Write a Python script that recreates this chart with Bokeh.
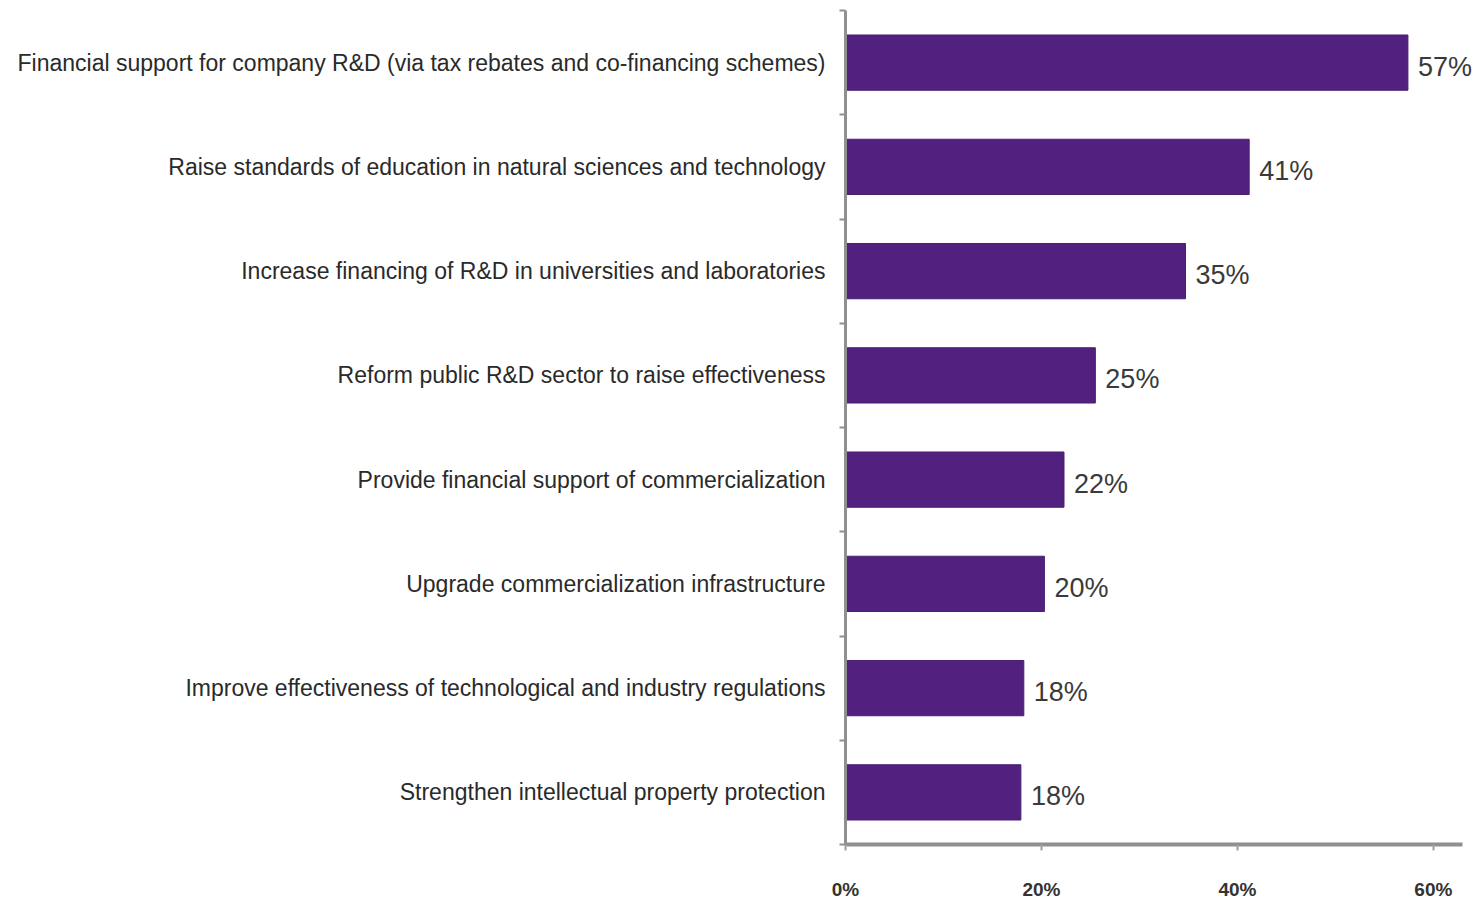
from bokeh.plotting import figure
from bokeh.models import ColumnDataSource, LabelSet, FixedTicker, Range1d
from bokeh.core.properties import value
from bokeh.embed import file_html
from bokeh.resources import INLINE

categories = [
    "Financial support for company R&D (via tax rebates and co-financing schemes)",
    "Raise standards of education in natural sciences and technology",
    "Increase financing of R&D in universities and laboratories",
    "Reform public R&D sector to raise effectiveness",
    "Provide financial support of commercialization",
    "Upgrade commercialization infrastructure",
    "Improve effectiveness of technological and industry regulations",
    "Strengthen intellectual property protection",
]
values = [57.4, 41.2, 34.7, 25.5, 22.3, 20.3, 18.2, 17.9]
value_labels = ["57%", "41%", "35%", "25%", "22%", "20%", "18%", "18%"]
x_ticks = [0, 20, 40, 60]
x_tick_labels = ["0%", "20%", "40%", "60%"]

n = len(categories)
pos = [i + 0.5 for i in range(n)]

src = ColumnDataSource(dict(y=pos, v=values, lab=value_labels, cat=categories))

p = figure(width=1476, height=902, output_backend="svg", toolbar_location=None,
           x_range=Range1d(0, 64.4), y_range=Range1d(n, 0),
           min_border_left=845, min_border_right=0, min_border_top=10, min_border_bottom=57)
p.outline_line_color = None
p.xgrid.grid_line_color = None
p.ygrid.grid_line_color = None
p.background_fill_color = "white"

p.hbar(y="y", left=0, right="v", height=0.53, source=src,
       fill_color="#52207f", line_color="#4a1f72", line_width=1)

labels = LabelSet(x="v", y="y", text="lab", source=src, x_offset=10, y_offset=-4,
                  text_baseline="middle", text_align="left",
                  text_font=value("Liberation Sans"), text_font_size=value("27px"),
                  text_color="#3a3a3a")
p.add_layout(labels)

# y axis
p.yaxis.ticker = FixedTicker(ticks=pos, minor_ticks=list(range(n + 1)))
p.yaxis.major_label_overrides = {pos[i]: categories[i] for i in range(n)}
p.yaxis.major_tick_line_color = None
p.yaxis.major_tick_out = 0
p.yaxis.major_tick_in = 0
p.yaxis.minor_tick_out = 6
p.yaxis.minor_tick_in = 0
p.yaxis.minor_tick_line_color = "#909090"
p.yaxis.minor_tick_line_width = 2
p.yaxis.axis_line_color = "#909090"
p.yaxis.axis_line_width = 3
p.yaxis.major_label_standoff = 14
p.yaxis.major_label_text_font = "Liberation Sans"
p.yaxis.major_label_text_font_size = "23px"
p.yaxis.major_label_text_color = "#2a2a2a"

# x axis
p.xaxis.ticker = FixedTicker(ticks=x_ticks, minor_ticks=[])
p.xaxis.bounds = (0, 63)
p.xaxis.major_label_overrides = {x_ticks[i]: x_tick_labels[i] for i in range(len(x_ticks))}
p.xaxis.axis_line_color = "#909090"
p.xaxis.axis_line_width = 4
p.xaxis.major_tick_line_color = "#a0a0a0"
p.xaxis.major_tick_line_width = 2
p.xaxis.major_tick_out = 6
p.xaxis.major_tick_in = 0
p.xaxis.major_label_standoff = 28
p.xaxis.major_label_text_font = "Liberation Sans"
p.xaxis.major_label_text_font_style = "bold"
p.xaxis.major_label_text_font_size = "19px"
p.xaxis.major_label_text_color = "#333333"

open("out.html", "w").write(file_html(p, INLINE))
